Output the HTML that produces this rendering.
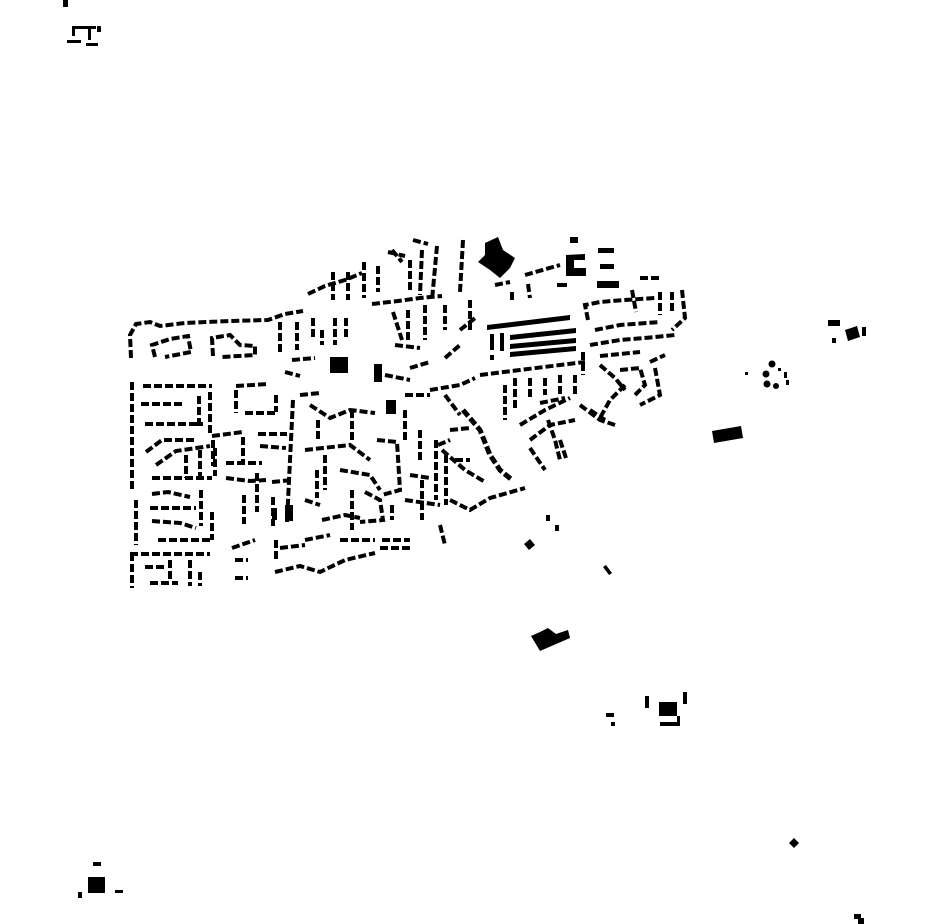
<!DOCTYPE html>
<html><head><meta charset="utf-8"><style>html,body{margin:0;padding:0;background:#fff}svg{display:block}</style></head>
<body>
<svg width="930" height="924" viewBox="0 0 930 924" xmlns="http://www.w3.org/2000/svg">
<g fill="none" stroke="#000" stroke-width="4" stroke-dasharray="8 3">
<!-- west loop -->
<path d="M131,358 L130,335 L136,324 L150,322 L160,326 L185,323 L230,321 L268,320 L285,314 L303,311"/>
<path d="M308,294 L325,286 L345,280 L362,273"/>
<path d="M155,357 L152,345 L170,339 L188,336 L191,352 L165,357"/>
<path d="M213,356 L212,338 L230,335 L240,345 L255,346 L255,355 L222,357"/>
<path d="M280,322 V352 M297,322 V350 M313,318 V340 M322,330 V345 M335,318 V345 M346,318 V340"/>
<path d="M292,360 L315,358 M285,372 L300,376"/>
<!-- west district -->
<path d="M132,382 V492 M132,553 V588 M136,500 V545"/>
<path d="M143,386 H212 M141,404 H183 M199,396 V426 M210,392 V435 M145,424 H203"/>
<path d="M146,452 L162,440 L195,440 M156,465 L176,451 L210,446 M186,455 V478 M200,450 V480 M215,448 V476 M152,478 H212"/>
<path d="M152,494 L168,492 L190,497 M150,508 H196 M152,521 L180,523 L196,528 M158,540 H212 M201,490 V526 M212,512 V540"/>
<path d="M130,554 H210 M145,567 H166 M150,583 H178 M170,560 V580 M190,560 V586 M200,572 V586 M235,560 H248 M235,578 H248"/>
<!-- central west -->
<path d="M236,390 V413 M236,386 L268,384 M245,413 H277 M276,395 V412"/>
<path d="M212,436 L243,432 M258,434 H287 M213,440 V466 M243,437 V462 M260,446 L286,448"/>
<path d="M226,463 H262 M226,478 L250,481 L266,480 M257,473 V512 M244,495 V524 M272,482 L292,480 M273,497 V526"/>
<path d="M232,548 L255,540 M276,540 V560 M280,548 L305,545 M275,572 L300,566 L320,572 L345,560 L375,553"/>
<path d="M300,395 L320,393 M293,400 L290,460 L287,522"/>
<path d="M310,405 L330,418 L350,410 L375,413 M318,420 V440 M352,410 V440 M305,450 L350,445 L370,460 M340,470 L370,475 L380,490"/>
<path d="M317,470 V498 M325,455 V490 M305,500 L320,505 M322,520 L345,515 L360,518 M340,540 H375 M305,540 L330,535"/>
<path d="M377,440 L397,442 L400,490 L382,495 M392,505 V520 M382,540 H410 M380,548 L412,548 M352,490 V530 M365,492 L380,500 L383,520 L360,522"/>
<path d="M405,395 L430,395 M405,410 V440 M420,430 V460 M410,475 L430,478 M422,480 V520 M405,500 L440,505"/>
<!-- north cluster -->
<path d="M333,272 V300 M348,272 V300 M364,262 V298 M378,266 V292 M392,250 L402,262 M413,240 L428,244 M388,252 L405,256 M410,260 V290 M422,250 L420,295 M437,246 L432,300 M463,240 L460,292"/>
<path d="M372,304 L398,301 L420,298 L442,296 M393,312 L402,340 M408,310 V340 M425,305 V340 M445,305 V330 M470,300 V330 M395,345 L420,348"/>
<path d="M385,375 L410,380 M410,368 L430,362 M430,390 L460,385 L475,378 M445,358 L460,345 M460,330 L475,318"/>
<path d="M495,285 L510,282 M525,275 L560,265 M512,292 V300 M528,284 L530,298 M640,278 H660"/>
<!-- east residential -->
<path d="M588,320 L585,305 L600,302 L625,300 L655,298 M632,290 L636,312 M660,292 V315 M672,292 V312 M682,290 L685,318 L672,330"/>
<path d="M595,330 L620,325 L660,322 M590,345 L620,340 L645,338 L675,335 M600,356 L640,352 M650,362 L665,355"/>
<path d="M583,352 V375 M600,365 L615,378 L625,390 M620,370 L640,368 L645,385 L635,395 M655,368 L660,395 L640,405 M625,385 L610,400 L600,418"/>
<path d="M480,375 L520,370 L560,365 L585,362 M505,385 L505,420 M515,378 V410 M530,378 V400 M545,378 V395 M560,375 V395 M575,375 V395"/>
<path d="M520,425 L545,410 L570,398 M530,440 L550,425 L575,420 M548,420 L555,440 L560,460 M530,448 L545,470 M560,440 L566,458 M590,410 L605,420"/>
<path d="M540,403 L565,398 M580,405 L600,420 L615,425"/>
<!-- southeast -->
<path d="M463,410 L480,430 L490,455 L500,470 L512,480" stroke-width="5"/>
<path d="M445,395 L460,415 M450,430 L470,428 M438,445 L450,440 M442,450 L465,470 L485,482"/>
<path d="M436,440 V500 M446,455 V505 M450,500 L470,510 L490,498 L525,488 M440,525 L445,545"/>
<path d="M455,460 L470,460"/>
</g>
<g fill="#000">
<!-- solid blocks -->
<rect x="374" y="364" width="8" height="18"/>
<rect x="386" y="400" width="10" height="14"/>
<rect x="272" y="508" width="5" height="12"/>
<rect x="285" y="505" width="8" height="16"/>
<rect x="330" y="357" width="18" height="16"/>
<polygon points="485,243 498,237 503,250 515,258 510,268 500,278 490,270 478,262 485,255"/>
<polygon points="566,255 585,254 585,260 574,260 574,268 586,268 586,276 566,276"/>
<rect x="570" y="237" width="8" height="6"/>
<rect x="598" y="248" width="16" height="5"/>
<rect x="600" y="264" width="14" height="5"/>
<rect x="597" y="281" width="22" height="7"/>
<rect x="557" y="283" width="10" height="4"/>
<polygon points="487,325 570,315 570,320 487,330"/>
<polygon points="510,335 576,328 576,333 510,340"/>
<polygon points="510,344 576,338 576,343 510,349"/>
<polygon points="510,352 576,346 576,351 510,357"/>
<rect x="490" y="334" width="4" height="16"/>
<rect x="500" y="333" width="4" height="18"/>
<rect x="490" y="355" width="4" height="5"/>
<polygon points="712,431 741,426 743,438 714,443"/>
<rect x="828" y="320" width="12" height="6"/>
<rect x="832" y="338" width="4" height="5"/>
<polygon points="845,330 857,326 860,337 848,341"/>
<rect x="862" y="327" width="4" height="9"/>
<circle cx="772" cy="364" r="3.5"/><circle cx="766" cy="374" r="3.5"/><circle cx="767" cy="384" r="3.5"/><circle cx="776" cy="386" r="3"/>
<rect x="745" y="372" width="3" height="3"/><rect x="784" y="372" width="3" height="6"/><rect x="786" y="380" width="3" height="5"/><rect x="778" y="368" width="3" height="3"/>
<polygon points="524,544 530,539 535,545 529,550"/>
<rect x="546" y="515" width="4" height="6"/>
<rect x="555" y="525" width="4" height="6"/>
<polygon points="603,567 606,565 612,573 609,575"/>
<polygon points="531,636 540,632 548,628 556,634 568,630 570,638 540,651"/>
<rect x="645" y="696" width="4" height="12"/>
<rect x="659" y="702" width="18" height="14"/>
<rect x="683" y="692" width="4" height="12"/>
<rect x="660" y="722" width="20" height="4"/>
<rect x="677" y="716" width="3" height="8"/>
<rect x="606" y="713" width="8" height="4"/>
<rect x="611" y="722" width="4" height="4"/>
<polygon points="794,838 799,843 794,848 789,843"/>
<rect x="88" y="877" width="17" height="16"/>
<rect x="93" y="862" width="8" height="4"/>
<rect x="78" y="892" width="4" height="6"/>
<rect x="115" y="890" width="8" height="3"/>
<rect x="854" y="914" width="7" height="5"/>
<rect x="858" y="918" width="6" height="6"/>
<rect x="63" y="0" width="5" height="7"/>
<rect x="72" y="26" width="24" height="3"/>
<rect x="72" y="26" width="3" height="10"/>
<rect x="88" y="28" width="3" height="12"/>
<rect x="97" y="26" width="4" height="6"/>
<rect x="67" y="40" width="14" height="3"/>
<rect x="86" y="43" width="12" height="3"/>
</g>
</svg>
</body></html>
